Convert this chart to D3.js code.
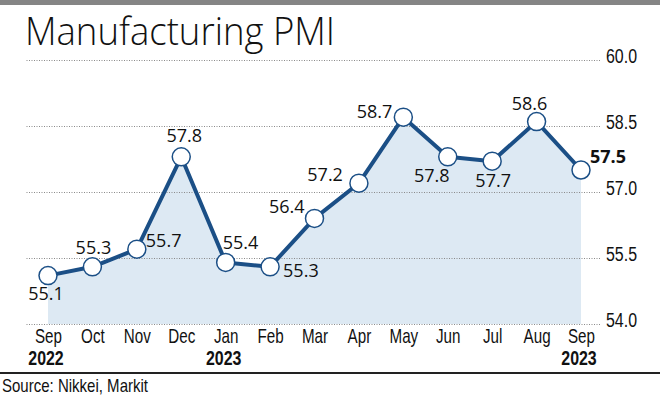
<!DOCTYPE html>
<html>
<head>
<meta charset="utf-8">
<script src="https://cdn.jsdelivr.net/npm/d3@7"></script>
<style>
  body { margin: 0; background: #fff; }
  svg { display: block; }
</style>
</head>
<body>
<div id="chart"></div>
<script>
// data
var months = ['Sep', 'Oct', 'Nov', 'Dec', 'Jan', 'Feb', 'Mar', 'Apr', 'May', 'Jun', 'Jul', 'Aug', 'Sep'];
var years = ['2022', '', '', '', '2023', '', '', '', '', '', '', '', '2023'];
var pmi = [55.1, 55.3, 55.7, 57.8, 55.4, 55.3, 56.4, 57.2, 58.7, 57.8, 57.7, 58.6, 57.5];
var yTicks = [54.0, 55.5, 57.0, 58.5, 60.0];

// where each value label sits relative to its point
var labelPos = [
    { dx: -2, dy: 24, anchor: 'middle' },
    { dx: 1, dy: -13, anchor: 'middle' },
    { dx: 9, dy: -2, anchor: 'start' },
    { dx: 3, dy: -15, anchor: 'middle' },
    { dx: -3, dy: -13, anchor: 'start' },
    { dx: 13, dy: 10, anchor: 'start' },
    { dx: -10, dy: -5, anchor: 'end' },
    { dx: -16, dy: -2, anchor: 'end' },
    { dx: -11, dy: 1, anchor: 'end' },
    { dx: -16, dy: 25, anchor: 'middle' },
    { dx: 1, dy: 26, anchor: 'middle' },
    { dx: -7, dy: -12, anchor: 'middle' },
    { dx: 9, dy: -7, anchor: 'start' }
];

var width = 660, height = 397;
var lineColor = '#1b4f86';
var narrowFont = '"Liberation Sans", Arial, sans-serif';
var squeeze = 'scale(0.76,1)'; // no condensed face installed, so squash Liberation Sans

var svg = d3.select('#chart').append('svg')
    .attr('width', width)
    .attr('height', height)
    .attr('viewBox', [0, 0, width, height]);

// top bar
svg.append('rect')
    .attr('x', 0).attr('y', 0)
    .attr('width', width).attr('height', 5)
    .attr('fill', '#858585');

// title
svg.append('text')
    .attr('x', 25).attr('y', 45)
    .attr('font-family', '"Open Sans", sans-serif')
    .attr('font-weight', 300)
    .attr('font-size', 38)
    .attr('fill', '#111')
    .attr('textLength', 310)
    .attr('lengthAdjust', 'spacingAndGlyphs')
    .text('Manufacturing PMI');

var x = d3.scaleLinear().domain([0, months.length - 1]).range([48, 581]);
var y = d3.scaleLinear().domain([54, 60]).range([324, 60]);

// area
var area = d3.area()
    .x(function (d, i) { return x(i); })
    .y0(y(54))
    .y1(function (d) { return y(d); });

svg.append('path')
    .datum(pmi)
    .attr('fill', '#dde9f3')
    .attr('d', area);

// gridlines
var grid = svg.append('g')
    .attr('transform', 'translate(600,0)')
    .call(d3.axisLeft(y).tickValues(yTicks).tickSize(575).tickFormat(''));
grid.select('.domain').remove();
grid.selectAll('line')
    .attr('stroke', '#8a8a8a')
    .attr('stroke-width', 1)
    .attr('stroke-dasharray', '1,1.5');

// y labels
var yAxis = svg.append('g')
    .attr('transform', 'translate(606,0)')
    .call(d3.axisRight(y).tickValues(yTicks).tickSize(0).tickPadding(0).tickFormat(d3.format('.1f')));
yAxis.select('.domain').remove();
yAxis.selectAll('text')
    .attr('dy', '0.1em')
    .attr('transform', squeeze)
    .attr('font-family', narrowFont)
    .attr('font-size', 21)
    .attr('fill', '#111');

// x labels
var xAxis = svg.append('g')
    .attr('transform', 'translate(0,324)')
    .call(d3.axisBottom(x).tickValues(d3.range(months.length)).tickSize(0).tickPadding(5)
        .tickFormat(function (i) { return months[i]; }));
xAxis.select('.domain').remove();
xAxis.selectAll('text')
    .attr('transform', squeeze)
    .attr('font-family', narrowFont)
    .attr('font-size', 20)
    .attr('fill', '#111');

svg.append('g').selectAll('g')
    .data(years)
    .enter()
    .append('g')
    .attr('transform', function (d, i) { return 'translate(' + (x(i) - 2) + ',365)'; })
    .append('text')
    .attr('transform', squeeze)
    .attr('text-anchor', 'middle')
    .attr('font-family', narrowFont)
    .attr('font-weight', 'bold')
    .attr('font-size', 21)
    .attr('fill', '#111')
    .text(function (d) { return d; });

// line
var line = d3.line()
    .x(function (d, i) { return x(i); })
    .y(function (d) { return y(d); });

svg.append('path')
    .datum(pmi)
    .attr('fill', 'none')
    .attr('stroke', lineColor)
    .attr('stroke-width', 4)
    .attr('stroke-linejoin', 'round')
    .attr('d', line);

// points
svg.append('g').selectAll('circle')
    .data(pmi)
    .enter()
    .append('circle')
    .attr('cx', function (d, i) { return x(i); })
    .attr('cy', function (d) { return y(d); })
    .attr('r', 9)
    .attr('fill', '#fff')
    .attr('stroke', lineColor)
    .attr('stroke-width', 1.5);

// value labels
svg.append('g').selectAll('text')
    .data(pmi)
    .enter()
    .append('text')
    .attr('x', function (d, i) { return x(i) + labelPos[i].dx; })
    .attr('y', function (d, i) { return y(d) + labelPos[i].dy; })
    .attr('text-anchor', function (d, i) { return labelPos[i].anchor; })
    .attr('font-family', '"Open Sans", sans-serif')
    .attr('font-size', 18)
    .attr('font-weight', function (d, i) { return i === pmi.length - 1 ? 'bold' : 'normal'; })
    .attr('fill', '#111')
    .text(function (d) { return d3.format('.1f')(d); });

// bottom rule + source
svg.append('line')
    .attr('x1', 0).attr('x2', width)
    .attr('y1', 373).attr('y2', 373)
    .attr('stroke', '#222')
    .attr('stroke-width', 2);

svg.append('text')
    .attr('x', 2).attr('y', 392)
    .attr('font-family', narrowFont)
    .attr('font-size', 19)
    .attr('fill', '#111')
    .attr('textLength', 146)
    .attr('lengthAdjust', 'spacingAndGlyphs')
    .text('Source: Nikkei, Markit');
</script>
</body>
</html>
